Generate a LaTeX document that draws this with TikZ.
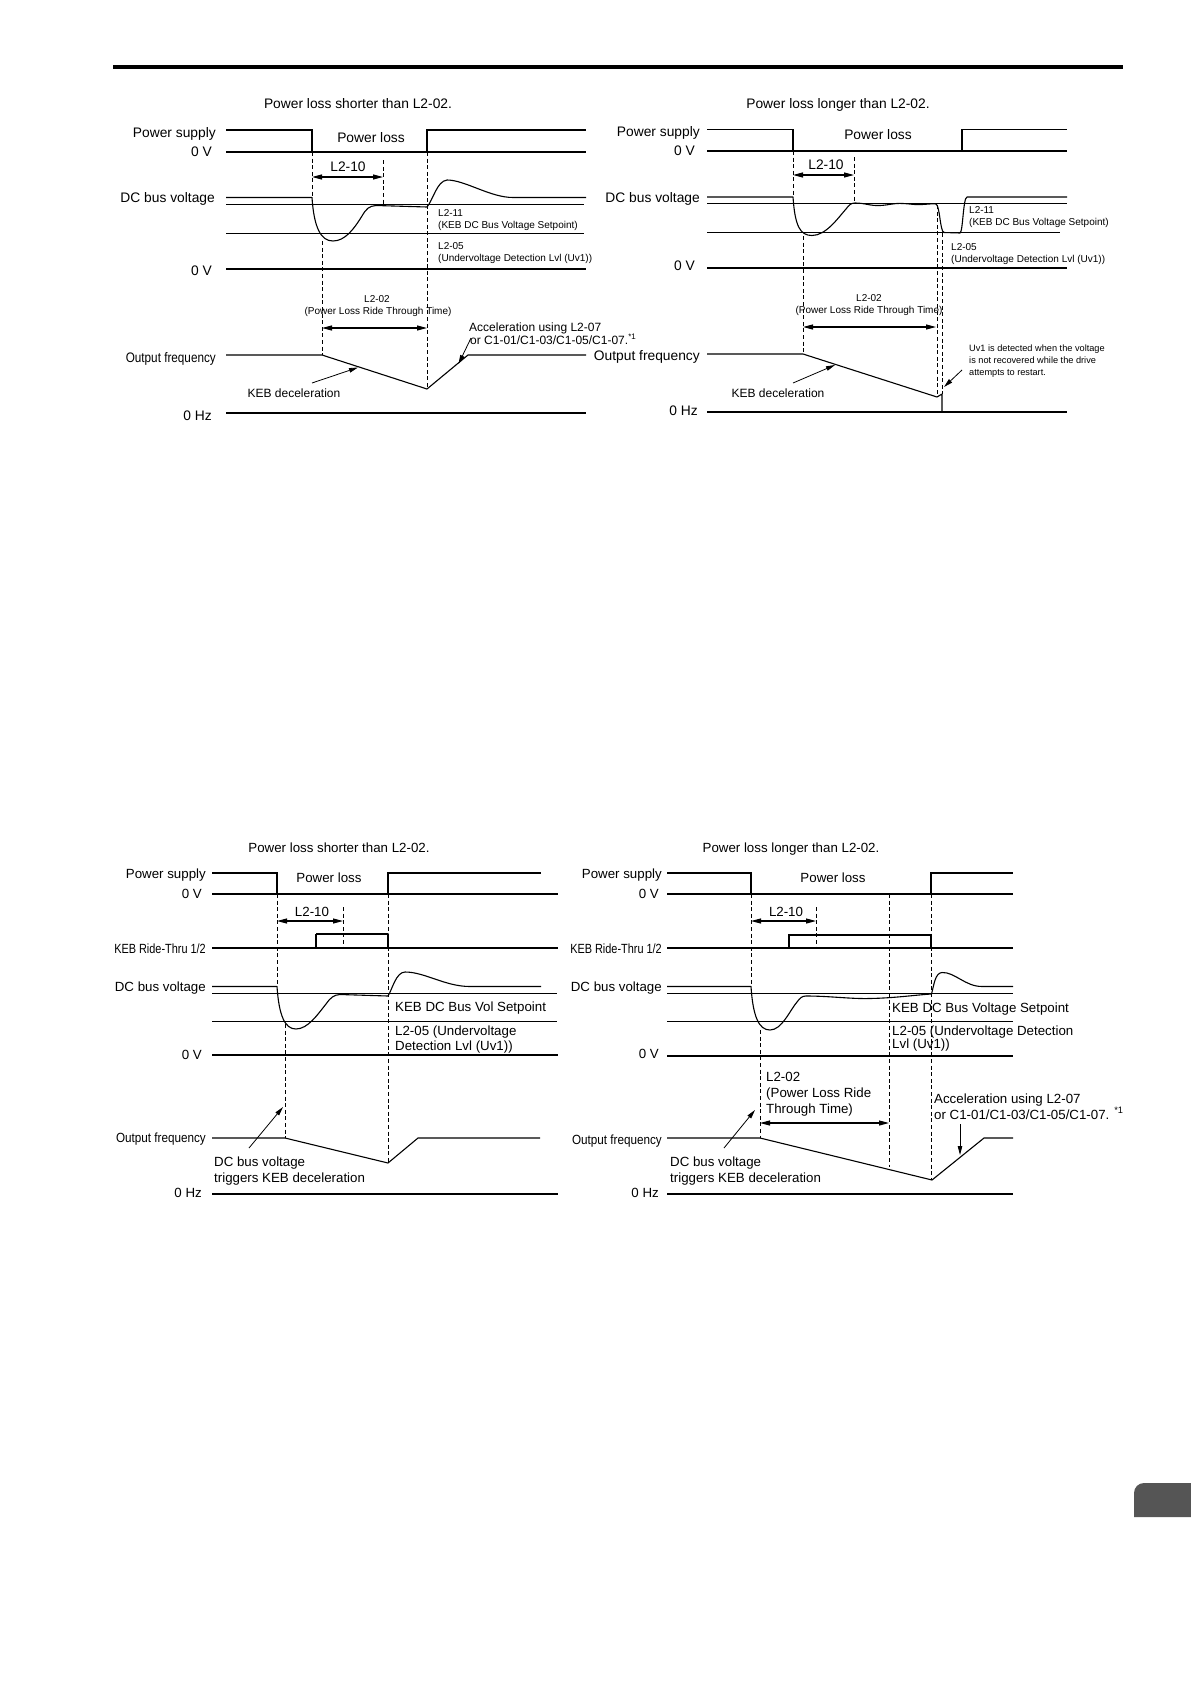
\documentclass[tikz,border=0pt]{standalone}
\usepackage{fontspec}
\setmainfont{Liberation Sans}
\usepackage{graphicx}
\usetikzlibrary{arrows.meta}
\newcommand\ftmain{\fontsize{13.8}{16}\selectfont}
\newcommand\ftbot{\fontsize{13.3}{15}\selectfont}
\newcommand\ftsmall{\fontsize{10}{12}\selectfont}
\newcommand\ftuv{\fontsize{9.2}{11}\selectfont}
\newcommand\ftmid{\fontsize{12}{14}\selectfont}
\definecolor{tabgray}{HTML}{555555}
\begin{document}
\begin{tikzpicture}[x=1pt,y=-1pt,
  wave/.style={line width=1.1pt, line join=round},
  pwr/.style={line width=1.8pt},
  dsh/.style={line width=0.9pt, dash pattern=on 4pt off 2.6pt},
  dimarr/.style={line width=1.1pt, {Triangle[length=10pt,width=5pt]}-{Triangle[length=10pt,width=5pt]}},
  ptr/.style={line width=0.8pt, -{Triangle[length=9pt,width=4.5pt]}},
  txt/.style={inner sep=0pt}
]
\useasboundingbox (0,0) rectangle (1191,1684);
\fill[white] (0,0) rectangle (1191,1684);
% header rule and tab
\draw[line width=3.5pt] (113,67) -- (1123,67);
\fill[tabgray] (1191,1517) -- (1134,1517) -- (1134,1493) arc[start angle=180, end angle=90, radius=10pt] -- (1191,1483) -- cycle;

% ================= Panel A =================
\node[txt, anchor=base, font=\ftmain] (tA) at (358,108) {Power loss shorter than L2-02.};
\node[txt, anchor=base east, font=\ftmain] (psA) at (216,137) {Power supply};
\node[txt, anchor=base east, font=\ftmain] (zvA1) at (212,156) {0 V};
\node[txt, anchor=base, font=\ftmain] (plA) at (371,142) {Power loss};
\node[txt, anchor=base, font=\ftmain] (l210A) at (348,171) {L2-10};
\node[txt, anchor=base east, font=\ftmain] (dcA) at (215,202) {DC bus voltage};
\node[txt, anchor=base west, font=\ftsmall] (l211A) at (438,216.6) {L2-11};
\node[txt, anchor=base west, font=\ftsmall] (l211dA) at (438,228.6) {(KEB DC Bus Voltage Setpoint)};
\node[txt, anchor=base west, font=\ftsmall] (l205A) at (438,249.6) {L2-05};
\node[txt, anchor=base west, font=\ftsmall] (l205dA) at (438,261.6) {(Undervoltage Detection Lvl (Uv1))};
\node[txt, anchor=base east, font=\ftmain] (zvA2) at (212,275) {0 V};
\node[txt, anchor=base, font=\ftsmall] (l202A) at (377,302.6) {L2-02};
\node[txt, anchor=base, font=\ftsmall] (l202dA) at (378,314.6) {(Power Loss Ride Through Time)};
\node[txt, anchor=base west, font=\ftmid] (accA) at (469,331.3) {Acceleration using L2-07};
\node[txt, anchor=base west, font=\ftmid] (accdA) at (470,344.3) {or C1-01/C1-03/C1-05/C1-07.\textsuperscript{*1}};
\node[txt, anchor=base east, font=\ftmain] (ofA) at (216,362) {\scalebox{0.85}[1]{Output frequency}};
\node[txt, anchor=base, font=\ftmid] (kebA) at (294,397.3) {KEB deceleration};
\node[txt, anchor=base east, font=\ftmain] (hzA) at (212,420) {0 Hz};

\draw[pwr] (226,130) -- (312,130) -- (312,152);
\draw[pwr] (427,152) -- (427,130) -- (586,130);
\draw[wave] (226,152) -- (586,152);
\draw[wave] (226,197.5) -- (312,197.5) .. controls (314,228) and (321,241) .. (333,241)
  .. controls (345,241) and (354,229) .. (362,216) .. controls (366,209) and (369,206) .. (376,205.5)
  -- (427,207) .. controls (433,200) and (437,181) .. (447,180)
  .. controls (465,180) and (490,197.5) .. (513,197.5) -- (586,197.5);
\draw[wave] (226,204.3) -- (584,204.3);
\draw[wave] (226,233.3) -- (584,233.3);
\draw[wave] (226,269) -- (586,269);
\draw[wave] (226,355) -- (322,355) -- (427,389) -- (468,355) -- (586,355);
\draw[wave] (226,413) -- (586,413);
\draw[dsh] (312,152) -- (312,197);
\draw[dsh] (383,160) -- (383,205);
\draw[dsh] (322,241) -- (322,355);
\draw[dsh] (427,152) -- (427,389);
\draw[dimarr] (312,177) -- (383,177);
\draw[dimarr] (322,328) -- (427,328);
\coordinate (kebAs) at (312,383); \coordinate (kebAe) at (358,367.5);
\draw[ptr] (kebAs) -- (kebAe);
\coordinate (accAs) at (471,338); \coordinate (accAe) at (458.5,364);
\draw[ptr] (accAs) -- (accAe);

% ================= Panel B =================
\node[txt, anchor=base, font=\ftmain] (tB) at (838,108) {Power loss longer than L2-02.};
\node[txt, anchor=base east, font=\ftmain] (psB) at (700,136) {Power supply};
\node[txt, anchor=base east, font=\ftmain] (zvB1) at (695,155) {0 V};
\node[txt, anchor=base, font=\ftmain] (plB) at (878,139) {Power loss};
\node[txt, anchor=base, font=\ftmain] (l210B) at (826,169) {L2-10};
\node[txt, anchor=base east, font=\ftmain] (dcB) at (700,202) {DC bus voltage};
\node[txt, anchor=base west, font=\ftsmall] (l211B) at (969,213.6) {L2-11};
\node[txt, anchor=base west, font=\ftsmall] (l211dB) at (969,225.6) {(KEB DC Bus Voltage Setpoint)};
\node[txt, anchor=base west, font=\ftsmall] (l205B) at (951,250.6) {L2-05};
\node[txt, anchor=base west, font=\ftsmall] (l205dB) at (951,262.6) {(Undervoltage Detection Lvl (Uv1))};
\node[txt, anchor=base east, font=\ftmain] (zvB2) at (695,270) {0 V};
\node[txt, anchor=base, font=\ftsmall] (l202B) at (869,301.6) {L2-02};
\node[txt, anchor=base, font=\ftsmall] (l202dB) at (869,313.6) {(Power Loss Ride Through Time)};
\node[txt, anchor=base east, font=\ftmain] (ofB) at (700,360) {Output frequency};
\node[txt, anchor=base west, font=\ftuv] (uv1B) at (969,351.3) {Uv1 is detected when the voltage};
\node[txt, anchor=base west, font=\ftuv] (uv2B) at (969,363.3) {is not recovered while the drive};
\node[txt, anchor=base west, font=\ftuv] (uv3B) at (969,375.3) {attempts to restart.};
\node[txt, anchor=base, font=\ftmid] (kebB) at (778,397.3) {KEB deceleration};
\node[txt, anchor=base east, font=\ftmain] (hzB) at (698,415) {0 Hz};

\draw[pwr] (707,129.5) -- (793,129.5) -- (793,151);
\draw[pwr] (962,151) -- (962,129.5) -- (1067,129.5);
\draw[wave] (707,151) -- (1067,151);
\draw[wave] (707,197) -- (793,197) .. controls (795,226) and (800,235.5) .. (812,235.5)
  .. controls (826,235.5) and (838,218) .. (846,209) .. controls (849,205) and (851,203) .. (855,203)
  .. controls (865,203) and (870,206) .. (880,205.5) .. controls (890,205) and (893,203) .. (903,203.5)
  .. controls (912,204) and (915,205) .. (922,204.5) .. controls (930,204) and (934,203.5) .. (936,204)
  .. controls (940,206) and (940,232) .. (944,232.5) -- (960,233)
  .. controls (963,232) and (963,198) .. (967,197) -- (1067,197);
\draw[wave] (707,203.3) -- (1067,203.3);
\draw[wave] (707,232.3) -- (1060,232.3);
\draw[wave] (707,268) -- (1067,268);
\draw[wave] (707,354) -- (803,354) -- (937,397) -- (942,394) -- (942,412);
\draw[wave] (707,412) -- (1067,412);
\draw[dsh] (793,151) -- (793,197);
\draw[dsh] (854,157) -- (854,203);
\draw[dsh] (803,236) -- (803,354);
\draw[dsh] (937,205) -- (937,397);
\draw[dsh] (942,233) -- (942,394);
\draw[dimarr] (793,175) -- (854,175);
\draw[dimarr] (803,327) -- (936,327);
\coordinate (kebBs) at (793,383); \coordinate (kebBe) at (835,365);
\draw[ptr] (kebBs) -- (kebBe);
\coordinate (uvBs) at (962,370); \coordinate (uvBe) at (944,387);
\draw[ptr] (uvBs) -- (uvBe);

% ================= Panel C =================
\node[txt, anchor=base, font=\ftbot] (tC) at (339,852) {Power loss shorter than L2-02.};
\node[txt, anchor=base east, font=\ftbot] (psC) at (206,878) {Power supply};
\node[txt, anchor=base east, font=\ftbot] (zvC1) at (202,898) {0 V};
\node[txt, anchor=base, font=\ftbot] (plC) at (329,882) {Power loss};
\node[txt, anchor=base, font=\ftbot] (l210C) at (312,916) {L2-10};
\node[txt, anchor=base east, font=\ftbot] (krC) at (206,953) {\scalebox{0.82}[1]{KEB Ride-Thru 1/2}};
\node[txt, anchor=base east, font=\ftbot] (dcC) at (206,991) {DC bus voltage};
\node[txt, anchor=base west, font=\ftbot] (spC) at (395,1011) {KEB DC Bus Vol Setpoint};
\node[txt, anchor=base west, font=\ftbot] (l205C) at (395,1035) {L2-05 (Undervoltage};
\node[txt, anchor=base west, font=\ftbot] (l205dC) at (395,1050) {Detection Lvl (Uv1))};
\node[txt, anchor=base east, font=\ftbot] (zvC2) at (202,1059) {0 V};
\node[txt, anchor=base east, font=\ftbot] (ofC) at (206,1142) {\scalebox{0.88}[1]{Output frequency}};
\node[txt, anchor=base west, font=\ftbot] (dbC) at (214,1166) {DC bus voltage};
\node[txt, anchor=base west, font=\ftbot] (dbdC) at (214,1182) {triggers KEB deceleration};
\node[txt, anchor=base east, font=\ftbot] (hzC) at (202,1197) {0 Hz};

\draw[pwr] (212,873) -- (277,873) -- (277,894);
\draw[pwr] (388,894) -- (388,873) -- (541,873);
\draw[wave] (212,894) -- (558,894);
\draw[wave] (212,948) -- (558,948);
\draw[pwr] (316,948) -- (316,934);
\draw[wave] (316,934) -- (388,934) -- (388,948);
\draw[wave] (212,986.5) -- (277,986.5) .. controls (279,1016) and (285,1029) .. (296,1029)
  .. controls (308,1029) and (318,1014) .. (326,1004) .. controls (331,997) and (334,995) .. (340,994.5)
  -- (388,996) .. controls (392,990) and (396,972) .. (405,972)
  .. controls (425,972) and (445,986.5) .. (470,986.5) -- (541,986.5);
\draw[wave] (212,993.3) -- (557,993.3);
\draw[wave] (212,1021.5) -- (557,1021.5);
\draw[wave] (212,1055) -- (558,1055);
\draw[wave] (212,1138) -- (285,1138) -- (388,1163) -- (418,1138) -- (540,1138);
\draw[wave] (212,1194) -- (558,1194);
\draw[dsh] (277,894) -- (277,986);
\draw[dsh] (343,907) -- (343,948);
\draw[dsh] (285,1024) -- (285,1138);
\draw[dsh] (388,894) -- (388,1163);
\draw[dimarr] (277,921) -- (343,921);
\coordinate (dbCs) at (249,1148); \coordinate (dbCe) at (283,1107);
\draw[ptr] (dbCs) -- (dbCe);

% ================= Panel D =================
\node[txt, anchor=base, font=\ftbot] (tD) at (791,852) {Power loss longer than L2-02.};
\node[txt, anchor=base east, font=\ftbot] (psD) at (662,878) {Power supply};
\node[txt, anchor=base east, font=\ftbot] (zvD1) at (659,898) {0 V};
\node[txt, anchor=base, font=\ftbot] (plD) at (833,882) {Power loss};
\node[txt, anchor=base, font=\ftbot] (l210D) at (786,916) {L2-10};
\node[txt, anchor=base east, font=\ftbot] (krD) at (662,953) {\scalebox{0.82}[1]{KEB Ride-Thru 1/2}};
\node[txt, anchor=base east, font=\ftbot] (dcD) at (662,991) {DC bus voltage};
\node[txt, anchor=base west, font=\ftbot] (spD) at (892,1012) {KEB DC Bus Voltage Setpoint};
\node[txt, anchor=base west, font=\ftbot] (l205D) at (892,1035) {L2-05 (Undervoltage Detection};
\node[txt, anchor=base west, font=\ftbot] (l205dD) at (892,1048) {Lvl (Uv1))};
\node[txt, anchor=base east, font=\ftbot] (zvD2) at (659,1058) {0 V};
\node[txt, anchor=base west, font=\ftbot] (l202D) at (766,1081) {L2-02};
\node[txt, anchor=base west, font=\ftbot] (l202dD) at (766,1097) {(Power Loss Ride};
\node[txt, anchor=base west, font=\ftbot] (l202eD) at (766,1113) {Through Time)};
\node[txt, anchor=base west, font=\ftbot] (accD) at (934,1103) {Acceleration using L2-07};
\node[txt, anchor=base west, font=\ftbot] (accdD) at (934,1119) {or C1-01/C1-03/C1-05/C1-07. \textsuperscript{*1}};
\node[txt, anchor=base east, font=\ftbot] (ofD) at (662,1144) {\scalebox{0.88}[1]{Output frequency}};
\node[txt, anchor=base west, font=\ftbot] (dbD) at (670,1166) {DC bus voltage};
\node[txt, anchor=base west, font=\ftbot] (dbdD) at (670,1182) {triggers KEB deceleration};
\node[txt, anchor=base east, font=\ftbot] (hzD) at (659,1197) {0 Hz};

\draw[pwr] (667,873) -- (751,873) -- (751,894);
\draw[pwr] (931,894) -- (931,873) -- (1013,873);
\draw[wave] (667,894) -- (1013,894);
\draw[wave] (667,948) -- (1013,948);
\draw[pwr] (789,948) -- (789,935) -- (931,935) -- (931,948);
\draw[wave] (667,986.5) -- (751,986.5) .. controls (753,1017) and (759,1030) .. (770,1030)
  .. controls (782,1030) and (790,1010) .. (797,1002) .. controls (800,998) and (802,996) .. (806,996)
  .. controls (830,996) and (850,999) .. (870,998.5) .. controls (895,998) and (915,995) .. (931.5,994)
  .. controls (934,985) and (935,973) .. (942,972.5)
  .. controls (955,972) and (965,986.5) .. (982,986.5) -- (1013,986.5);
\draw[wave] (667,993.3) -- (1013,993.3);
\draw[wave] (667,1021.5) -- (1013,1021.5);
\draw[wave] (667,1056) -- (1013,1056);
\draw[wave] (667,1138) -- (760,1138) -- (932,1180) -- (984,1138) -- (1013,1138);
\draw[wave] (667,1194) -- (1013,1194);
\draw[dsh] (751,894) -- (751,986);
\draw[dsh] (816,907) -- (816,948);
\draw[dsh] (760,1030) -- (760,1138);
\draw[dsh] (889,894) -- (889,1167);
\draw[dsh] (931,894) -- (931,1180);
\draw[dimarr] (751,921) -- (816,921);
\draw[dimarr] (760,1123) -- (889,1123);
\coordinate (dbDs) at (724,1148); \coordinate (dbDe) at (755,1110);
\draw[ptr] (dbDs) -- (dbDe);
\coordinate (accDs) at (960,1124); \coordinate (accDe) at (960,1155);
\draw[ptr] (accDs) -- (accDe);
\end{tikzpicture}
\end{document}
